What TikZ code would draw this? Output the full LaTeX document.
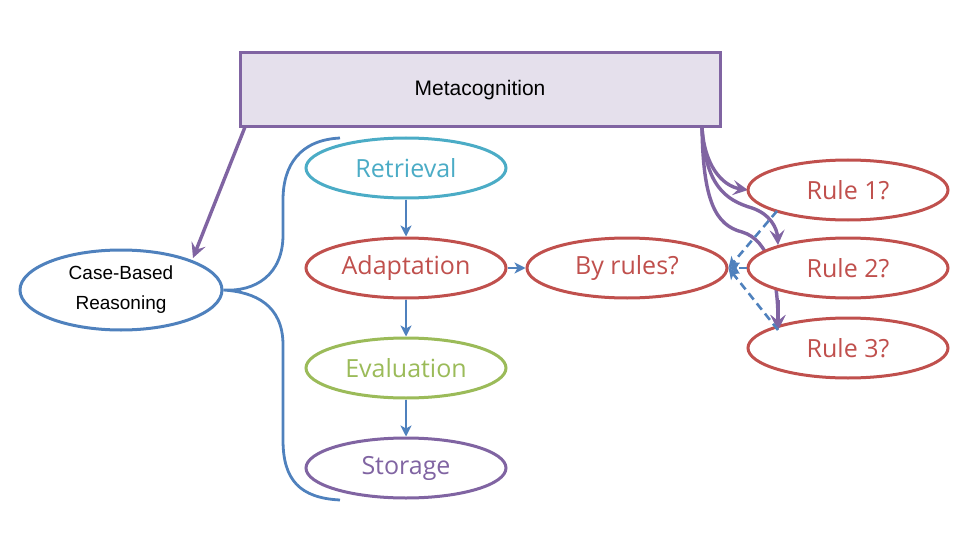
\documentclass[tikz,border=0pt]{standalone}
\usepackage{fontspec}
\setmainfont{Liberation Sans}
\newfontfamily\handfont{Open Sans}
\usetikzlibrary{shapes.geometric,arrows.meta}
\definecolor{mpurple}{HTML}{8064A2}
\definecolor{mlav}{HTML}{E5E0EC}
\definecolor{mblue}{HTML}{4F81BD}
\definecolor{mteal}{HTML}{4BACC6}
\definecolor{mred}{HTML}{C0504D}
\definecolor{mgreen}{HTML}{9BBB59}
\tikzset{
  oval/.style={ellipse, draw=#1, text=#1, fill=white, line width=3pt,
    minimum width=200pt, minimum height=60pt, inner sep=0pt,
    font=\handfont\fontsize{25}{25}\selectfont},
  stepflow/.style={draw=mblue, line width=2.6pt, -{Stealth[length=11pt,width=11pt,inset=3pt]}},
  dashflow/.style={draw=mblue, line width=2.6pt, dash pattern=on 8pt off 5pt,
    -{Stealth[length=11pt,width=11pt,inset=3pt]}},
  metaflow/.style={draw=mpurple, line width=3.4pt, -{Stealth[length=15pt,width=15pt,inset=6pt]}},
}
\begin{document}
\begin{tikzpicture}[x=1pt,y=-1pt]
\useasboundingbox (0,0) rectangle (960,540);

% top controller box
\node[draw=mpurple, fill=mlav, line width=3pt, minimum width=480pt, minimum height=74pt,
  inner sep=0pt, font=\fontsize{21}{21}\selectfont] (meta) at (480,90) {Metacognition};
\coordinate (metaL) at (245,127);
\coordinate (metaR) at (702,127);

% case-based reasoning
\node[ellipse, draw=mblue, line width=3pt, minimum width=202pt, minimum height=80pt,
  inner sep=0pt, align=center, font=\fontsize{19}{30}\selectfont] (cbr) at (121,290)
  {Case-Based\\Reasoning};

% brace from the CBR node to the four phases
\coordinate (btop) at (340,138);
\coordinate (bbot) at (340,500);
\draw[mblue, line width=2.8pt]
  (btop) .. controls (300,140) and (283,165) .. (283,200) -- (283,235)
  .. controls (283,275) and (255,292) .. (cbr.east)
  .. controls (255,292) and (283,305) .. (283,345) -- (283,440)
  .. controls (283,480) and (300,498) .. (bbot);

% purple curves towards the rules (drawn beneath the rule ovals)
\coordinate (r1in) at (748,190);
\coordinate (r2in) at (778,245);
\coordinate (r3in) at (778,330);
\draw[metaflow] (metaR) .. controls (704,165) and (722,186) .. (r1in);
\draw[metaflow] (metaR) .. controls (705,185) and (725,200) .. (752,208)
  .. controls (770,214) and (777,228) .. (r2in);
\draw[metaflow] (metaR) .. controls (703,200) and (715,225) .. (742,232)
  .. controls (770,240) and (778,280) .. (r3in);

% phases
\node[oval=mteal] (ret) at (406,168) {Retrieval};
\node[oval=mred] (ada) at (406,268) {Adaptation};
\node[oval=mgreen] (eva) at (406,368) {Evaluation};
\node[oval=mpurple] (sto) at (406,468) {Storage};
\node[oval=mred] (by) at (627,268) {By rules?};

% rules
\node[oval=mred] (r1) at (848,190) {Rule 1?};
\node[oval=mred] (r2) at (848,268) {Rule 2?};
\node[oval=mred] (r3) at (848,348) {Rule 3?};

% visible end of the purple arrow below Rule 2
\draw[metaflow] (778,300) -- (r3in);

% flow arrows
\draw[stepflow] (ret) -- (ada);
\draw[stepflow] (ada) -- (eva);
\draw[stepflow] (eva) -- (sto);
\draw[stepflow] (ada) -- (by);
\draw[metaflow] (metaL) -- (193,258);

% dashed links from the rules
\coordinate (r1out) at (777,211);
\draw[dashflow] (r1out) -- (by.east);
\draw[dashflow] (r2.west) -- (by.east);
\draw[dashflow] (r3in) -- (by.east);
\end{tikzpicture}
\end{document}
